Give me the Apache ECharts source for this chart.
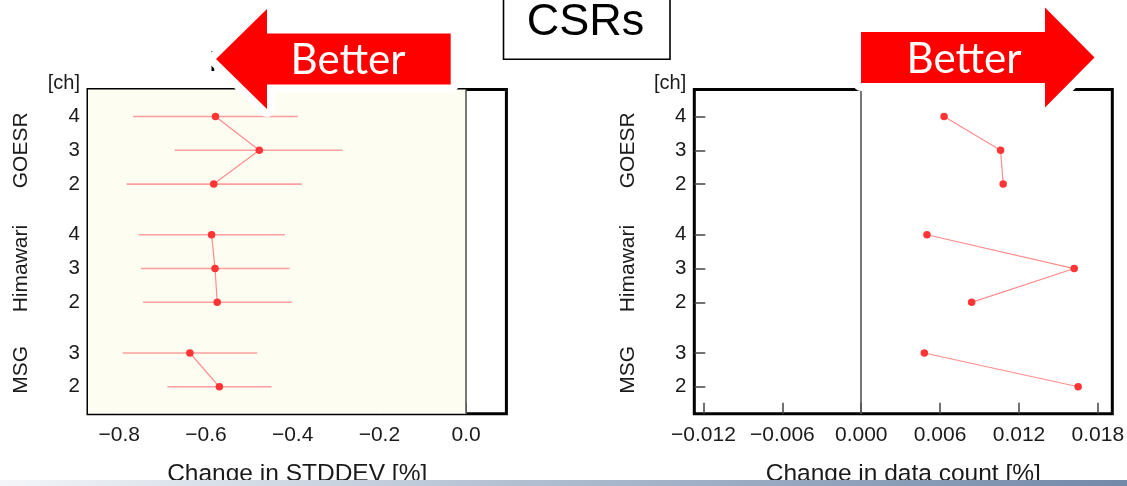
<!DOCTYPE html>
<html>
<head>
<meta charset="utf-8">
<script src="https://cdn.jsdelivr.net/npm/echarts@6/dist/echarts.min.js"></script>
<style>
  html, body { margin: 0; padding: 0; background: #fff; }
  #chart { width: 1127px; height: 486px; }
</style>
</head>
<body>
<div id="chart"></div>
<script>
// Rows from top to bottom: satellite group and channel
const satellites = ['GOESR', 'GOESR', 'GOESR', 'Himawari', 'Himawari', 'Himawari', 'MSG', 'MSG'];
const channels = ['4', '3', '2', '4', '3', '2', '3', '2'];

// Change in STDDEV [%] with its interval
const stddevChange = [-0.578, -0.477, -0.582, -0.587, -0.579, -0.574, -0.637, -0.569];
const stddevLow = [-0.768, -0.672, -0.783, -0.755, -0.750, -0.745, -0.792, -0.689];
const stddevHigh = [-0.388, -0.285, -0.379, -0.418, -0.407, -0.402, -0.482, -0.449];

// Change in data count [%]
const countChange = [0.0063, 0.0106, 0.0108, 0.0050, 0.0162, 0.0084, 0.0048, 0.0165];

// Tick labels of the two x axes
const stddevTicks = [-0.8, -0.6, -0.4, -0.2, 0.0];
const countTicks = [-0.012, -0.006, 0.000, 0.006, 0.012, 0.018];

// Row positions: one unit between channels, one and a half between satellites
const rowPos = new Array(satellites.length);
(function () {
  let p = 1;
  for (let i = satellites.length - 1; i >= 0; i--) {
    if (i < satellites.length - 1) {
      p += satellites[i] === satellites[i + 1] ? 1 : 1.5;
    }
    rowPos[i] = p;
  }
})();
const groupNames = [];
const groupPos = [];
satellites.forEach((s, i) => {
  const k = groupNames.indexOf(s);
  if (k < 0) { groupNames.push(s); groupPos.push([rowPos[i]]); }
  else groupPos[k].push(rowPos[i]);
});
const groupCenters = groupPos.map(a => (Math.min(...a) + Math.max(...a)) / 2);
const yMin = Math.min(...rowPos) - 0.8;
const yMax = Math.max(...rowPos) + 0.8;

const FONT = "'Liberation Sans', Arial, Helvetica, sans-serif";
const TXT = '#1a1a1a';
const minus = s => s.replace('-', '\u2212');

function rowLabel(v) {
  const i = rowPos.findIndex(p => Math.abs(p - v) < 1e-6);
  return i >= 0 ? channels[i] : '';
}
function groupLabel(v) {
  const i = groupCenters.findIndex(p => Math.abs(p - v) < 1e-6);
  return i >= 0 ? groupNames[i] : '';
}

function xAxisFor(gridIndex, min, max, ticks, digits, name) {
  return {
    type: 'value', gridIndex, min, max, name, position: 'bottom',
    nameLocation: 'middle', nameGap: 48,
    nameTextStyle: { fontFamily: FONT, fontSize: 24.5, color: TXT },
    axisLine: { show: false, onZero: false },
    splitLine: { show: false },
    axisTick: { show: true, inside: true, length: 11, customValues: ticks,
      lineStyle: { color: '#444', width: 1.5 } },
    axisLabel: { customValues: ticks, margin: 11, fontFamily: FONT, fontSize: 21, color: TXT,
      formatter: v => minus(Number(v).toFixed(digits)) }
  };
}
function yAxesFor(gridIndex) {
  return [{
    type: 'value', gridIndex, min: yMin, max: yMax, position: 'left',
    name: '[ch]', nameLocation: 'end', nameGap: 6,
    nameTextStyle: { fontFamily: FONT, fontSize: 20, color: TXT, align: 'right',
      verticalAlign: 'middle', padding: [0, 8, 0, 0] },
    axisLine: { show: false, onZero: false },
    splitLine: { show: false },
    axisTick: { show: true, inside: true, length: 11, customValues: rowPos,
      lineStyle: { color: '#444', width: 1.5 } },
    axisLabel: { customValues: rowPos, margin: 8, fontFamily: FONT, fontSize: 20.5, color: TXT,
      formatter: rowLabel }
  }, {
    type: 'value', gridIndex, min: yMin, max: yMax, position: 'left',
    axisLine: { show: false, onZero: false }, axisTick: { show: false }, splitLine: { show: false },
    axisLabel: { customValues: groupCenters, rotate: 90, margin: 56, fontFamily: FONT,
      fontSize: 21, color: TXT, formatter: groupLabel }
  }];
}

const PT = '#ff3535';
const LN = '#ff8c8c';
const BAR = '#ff9f9f';

function groupLines(values, xIdx, yIdx) {
  return groupNames.map(g => ({
    type: 'line', xAxisIndex: xIdx, yAxisIndex: yIdx,
    data: satellites.map((s, i) => s === g ? [values[i], rowPos[i]] : null).filter(d => d),
    symbol: 'circle', symbolSize: 7.5,
    itemStyle: { color: PT },
    lineStyle: { color: LN, width: 1.2 },
    z: 5, silent: true, animation: false
  }));
}

const zeroLine = {
  silent: true, symbol: 'none', animation: false,
  label: { show: false },
  lineStyle: { color: '#555', width: 1.6, type: 'solid' },
  data: [{ xAxis: 0 }]
};

const leftLines = groupLines(stddevChange, 0, 0);
leftLines[0].markArea = {
  silent: true, animation: false,
  itemStyle: { color: '#fefdf1' },
  data: [[{ xAxis: -0.872 }, { xAxis: 0 }]]
};
leftLines[0].markLine = zeroLine;

const rightLines = groupLines(countChange, 1, 2);
rightLines[0].markLine = zeroLine;

const errorBars = {
  type: 'custom', xAxisIndex: 0, yAxisIndex: 0,
  data: stddevChange.map((v, i) => [stddevLow[i], stddevHigh[i], rowPos[i]]),
  encode: { x: [0, 1], y: 2 },
  renderItem: (params, api) => {
    const y = api.value(2);
    const a = api.coord([api.value(0), y]);
    const b = api.coord([api.value(1), y]);
    return { type: 'line', shape: { x1: a[0], y1: a[1], x2: b[0], y2: b[1] },
      style: { stroke: BAR, lineWidth: 1.6 } };
  },
  z: 3, silent: true, animation: false
};

function arrowPoints(tailX, headBaseX, tipX, cy) {
  return [[tipX, cy], [headBaseX, cy - 50], [headBaseX, cy - 25.5], [tailX, cy - 25.5],
    [tailX, cy + 25.5], [headBaseX, cy + 25.5], [headBaseX, cy + 50]];
}
const leftArrow = arrowPoints(450.7, 267, 216, 59);
const rightArrow = arrowPoints(861, 1045, 1094.5, 57.5);

const chart = echarts.init(document.getElementById('chart'), null, { renderer: 'canvas' });
chart.setOption({
  animation: false,
  backgroundColor: '#fff',
  grid: [
    { left: 88, top: 89.5, width: 418.4, height: 324.3, show: true, borderColor: '#000',
      borderWidth: 3, backgroundColor: '#fff', containLabel: false, outerBoundsMode: 'none' },
    { left: 694.3, top: 89.5, width: 418, height: 324.3, show: true, borderColor: '#000',
      borderWidth: 3, backgroundColor: '#fff', containLabel: false, outerBoundsMode: 'none' }
  ],
  xAxis: [
    xAxisFor(0, -0.872, 0.093, stddevTicks, 1, 'Change in STDDEV [%]'),
    xAxisFor(1, -0.0127, 0.0191, countTicks, 3, 'Change in data count [%]')
  ],
  yAxis: [...yAxesFor(0), ...yAxesFor(1)],
  series: [errorBars, ...leftLines, ...rightLines],
  graphic: [
    { type: 'text', left: 209, top: 48, z: 50,
      style: { text: 'F', font: '30px ' + FONT, fill: '#000' } },
    { type: 'polygon', z: 60, shape: { points: leftArrow },
      style: { fill: '#fff', stroke: '#fff', lineWidth: 16, lineJoin: 'round' } },
    { type: 'polygon', z: 61, shape: { points: leftArrow }, style: { fill: '#ff0000' } },
    { type: 'text', z: 62, x: 348, y: 60,
      style: { text: 'Better', font: '42px Lato, sans-serif', fill: '#fff',
        align: 'center', verticalAlign: 'middle' } },
    { type: 'polygon', z: 60, shape: { points: rightArrow },
      style: { fill: '#fff', stroke: '#fff', lineWidth: 16, lineJoin: 'round' } },
    { type: 'polygon', z: 61, shape: { points: rightArrow }, style: { fill: '#ff0000' } },
    { type: 'text', z: 62, x: 964, y: 59,
      style: { text: 'Better', font: '42px Lato, sans-serif', fill: '#fff',
        align: 'center', verticalAlign: 'middle' } },
    { type: 'rect', z: 70, shape: { x: 503.5, y: -5, width: 166.5, height: 64.3 },
      style: { fill: '#fff', stroke: '#000', lineWidth: 1.6 } },
    { type: 'text', z: 71, x: 585.5, y: 23,
      style: { text: 'CSRs', font: '45px ' + FONT, fill: '#000',
        align: 'center', verticalAlign: 'middle' } },
    { type: 'rect', z: 80, shape: { x: 0, y: 480, width: 1127, height: 6 },
      style: { fill: new echarts.graphic.LinearGradient(0, 0, 1, 0, [
        { offset: 0, color: '#f4f6f9' }, { offset: 0.45, color: '#b3c0d2' },
        { offset: 1, color: '#7389a8' }]) } }
  ]
});
</script>
</body>
</html>
